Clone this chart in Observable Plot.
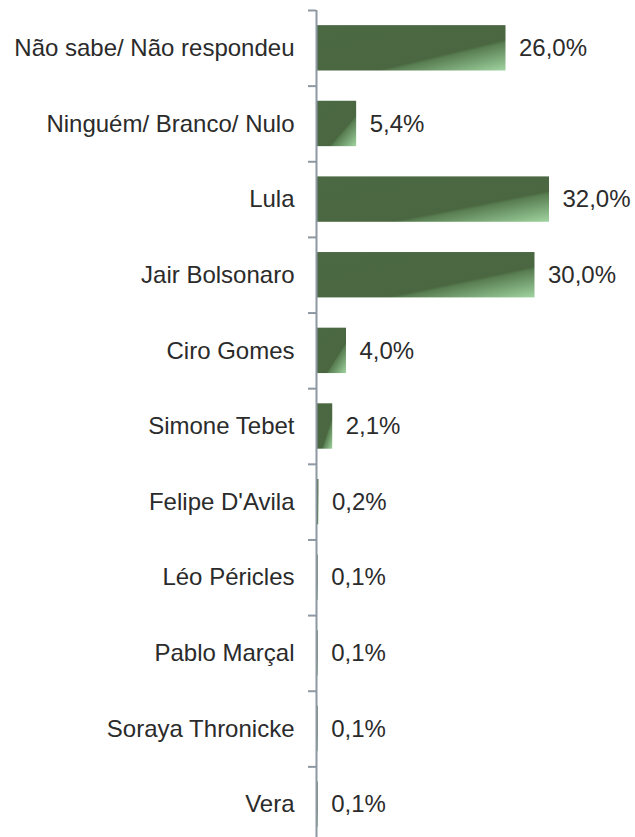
<!DOCTYPE html>
<html>
<head>
<meta charset="utf-8">
<script src="https://cdn.jsdelivr.net/npm/d3@7"></script>
<script src="https://cdn.jsdelivr.net/npm/@observablehq/plot@0.6"></script>
<style>
  html, body { margin: 0; padding: 0; background: #fff; overflow: hidden; }
  svg { display: block; }
</style>
</head>
<body>
<div id="chart"></div>
<script>
const categories = ["Não sabe/ Não respondeu", "Ninguém/ Branco/ Nulo", "Lula", "Jair Bolsonaro", "Ciro Gomes", "Simone Tebet", "Felipe D'Avila", "Léo Péricles", "Pablo Marçal", "Soraya Thronicke", "Vera"];
const values = [26.0, 5.4, 32.0, 30.0, 4.0, 2.1, 0.2, 0.1, 0.1, 0.1, 0.1];
const labels = ["26,0%", "5,4%", "32,0%", "30,0%", "4,0%", "2,1%", "0,2%", "0,1%", "0,1%", "0,1%", "0,1%"];

const data = categories.map((c, i) => ({cat: c, v: values[i], label: labels[i]}));

const W = 635, H = 837, mTop = 10, mBottom = -5;
const step = (H - mBottom - mTop) / categories.length;
const FONT = "'Liberation Sans', Arial, sans-serif";

const chart = Plot.plot({
  width: W,
  height: H,
  marginLeft: 317,
  marginRight: 86,
  marginTop: mTop,
  marginBottom: mBottom,
  style: {fontFamily: FONT, fontSize: "24px", color: "#2b2b2b", background: "#fff"},
  x: {domain: [0, 32], axis: null},
  y: {domain: categories, paddingInner: 0.4, paddingOuter: 0.2, round: false, label: null},
  marks: [
    () => {
      const s = d3.create("svg:defs");
      const g = s.append("linearGradient").attr("id", "barGrad")
        .attr("x1", 0).attr("y1", 0).attr("x2", 1).attr("y2", 1);
      g.append("stop").attr("offset", "0").attr("stop-color", "#4b6943");
      g.append("stop").attr("offset", "0.66").attr("stop-color", "#4a6741");
      g.append("stop").attr("offset", "0.69").attr("stop-color", "#587d51");
      g.append("stop").attr("offset", "1").attr("stop-color", "#a0d4a0");
      return s.node();
    },
    Plot.barX(data, {x: "v", y: "cat", fill: "url(#barGrad)"}),
    Plot.ruleX([0], {stroke: "#8e98a2", strokeWidth: 2, dx: -1}),
    Plot.axisY({tickSize: 0, tickPadding: 23, fontSize: 24, fill: "#2b2b2b", textAnchor: "end", fontFamily: FONT}),
    Plot.axisY({tickSize: 8, text: null, stroke: "#8e98a2", strokeWidth: 2, dy: -step / 2, dx: -1}),
    Plot.text(data, {x: "v", y: "cat", text: "label", textAnchor: "start", dx: 13, fontSize: 24, fill: "#2b2b2b", fontFamily: FONT})
  ]
});
document.getElementById("chart").appendChild(chart);
</script>
</body>
</html>
